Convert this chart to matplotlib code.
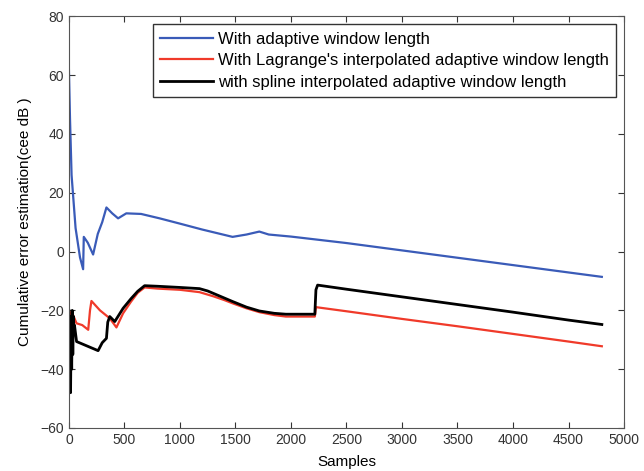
import matplotlib
matplotlib.use("Agg")
import matplotlib.pyplot as plt

plt.rcParams['font.family'] = ['Liberation Sans', 'DejaVu Sans']

blue_x = [0, 10, 24, 60, 100, 128, 134, 170, 218, 260, 300, 338, 390, 443, 517, 650, 817,
          1000, 1200, 1474, 1600, 1715, 1800, 2000, 2500, 3000, 3500, 4000, 4500, 4800]
blue_y = [62, 45, 26, 8, -2, -6, 5, 3, -1, 6, 10, 15, 13, 11.3, 13, 12.8, 11.3,
          9.5, 7.5, 5.0, 5.8, 6.8, 5.8, 5.1, 2.9, 0.4, -2.1, -4.6, -7.1, -8.6]

red_x = [0, 10, 24, 69, 120, 174, 190, 203, 280, 368, 428, 488, 560, 620, 682, 800,
         1000, 1176, 1300, 1400, 1475, 1600, 1715, 1850, 1954, 2100, 2215, 2225, 2500, 3000, 3500, 4000, 4500, 4800]
red_y = [-20, -22, -20.4, -24.4, -25, -26.6, -20, -16.8, -20, -22.7, -25.8, -21, -17, -14, -12.2, -12.6,
         -13, -13.8, -15.2, -16.5, -17.6, -19.3, -20.6, -21.6, -22.1, -22.1, -22.1, -18.9, -20.3, -22.9, -25.4, -28, -30.6, -32.2]

black_x = [0, 5, 10, 15, 20, 25, 30, 35, 40, 45, 50, 69, 263, 300, 338, 350, 368, 413, 488, 560, 620, 682,
           800, 1000, 1176, 1250, 1350, 1475, 1600, 1715, 1850, 1954, 2100, 2215, 2225, 2240, 2500, 3000, 3500, 4000, 4500, 4800]
black_y = [-20, -45, -22, -48, -25, -40, -20, -35, -22, -28, -25, -30.6, -33.7, -31, -29.5, -24, -22.1, -23.8, -19.3, -16, -13.5, -11.6,
           -11.8, -12.2, -12.6, -13.4, -15, -17, -18.9, -20.2, -21.0, -21.3, -21.3, -21.3, -13, -11.4, -12.8, -15.4, -18, -20.6, -23.3, -24.8]

labels = ["With adaptive window length",
          "With Lagrange's interpolated adaptive window length",
          "with spline interpolated adaptive window length"]

fig = plt.figure(figsize=(6.44, 4.71), dpi=100)
ax = fig.add_axes([0.107, 0.0913, 0.862, 0.874])
ax.plot(blue_x, blue_y, color='#3a5bb8', lw=1.6, label=labels[0])
ax.plot(red_x, red_y, color='#f03a2a', lw=1.6, label=labels[1])
ax.plot(black_x, black_y, color='black', lw=2.0, label=labels[2])

ax.set_xlim(0, 5000)
ax.set_ylim(-60, 80)
ax.set_xticks(range(0, 5001, 500))
ax.set_yticks(range(-60, 81, 20))
ax.tick_params(direction='in', top=True, right=True, labelsize=10, length=4, colors='#333333')
for s in ax.spines.values():
    s.set_color('#555555')
ax.set_xlabel('Samples', fontsize=11, labelpad=6)
ax.set_ylabel('Cumulative error estimation(cee dB )', fontsize=11, labelpad=6)
leg = ax.legend(loc='upper right', fontsize=12, fancybox=False, framealpha=1,
                edgecolor='#333333', handlelength=3.2, borderaxespad=0.48,
                borderpad=0.45, labelspacing=0.38, handletextpad=0.25)
leg.get_frame().set_linewidth(1.0)

fig.savefig('out.png', dpi=100)
